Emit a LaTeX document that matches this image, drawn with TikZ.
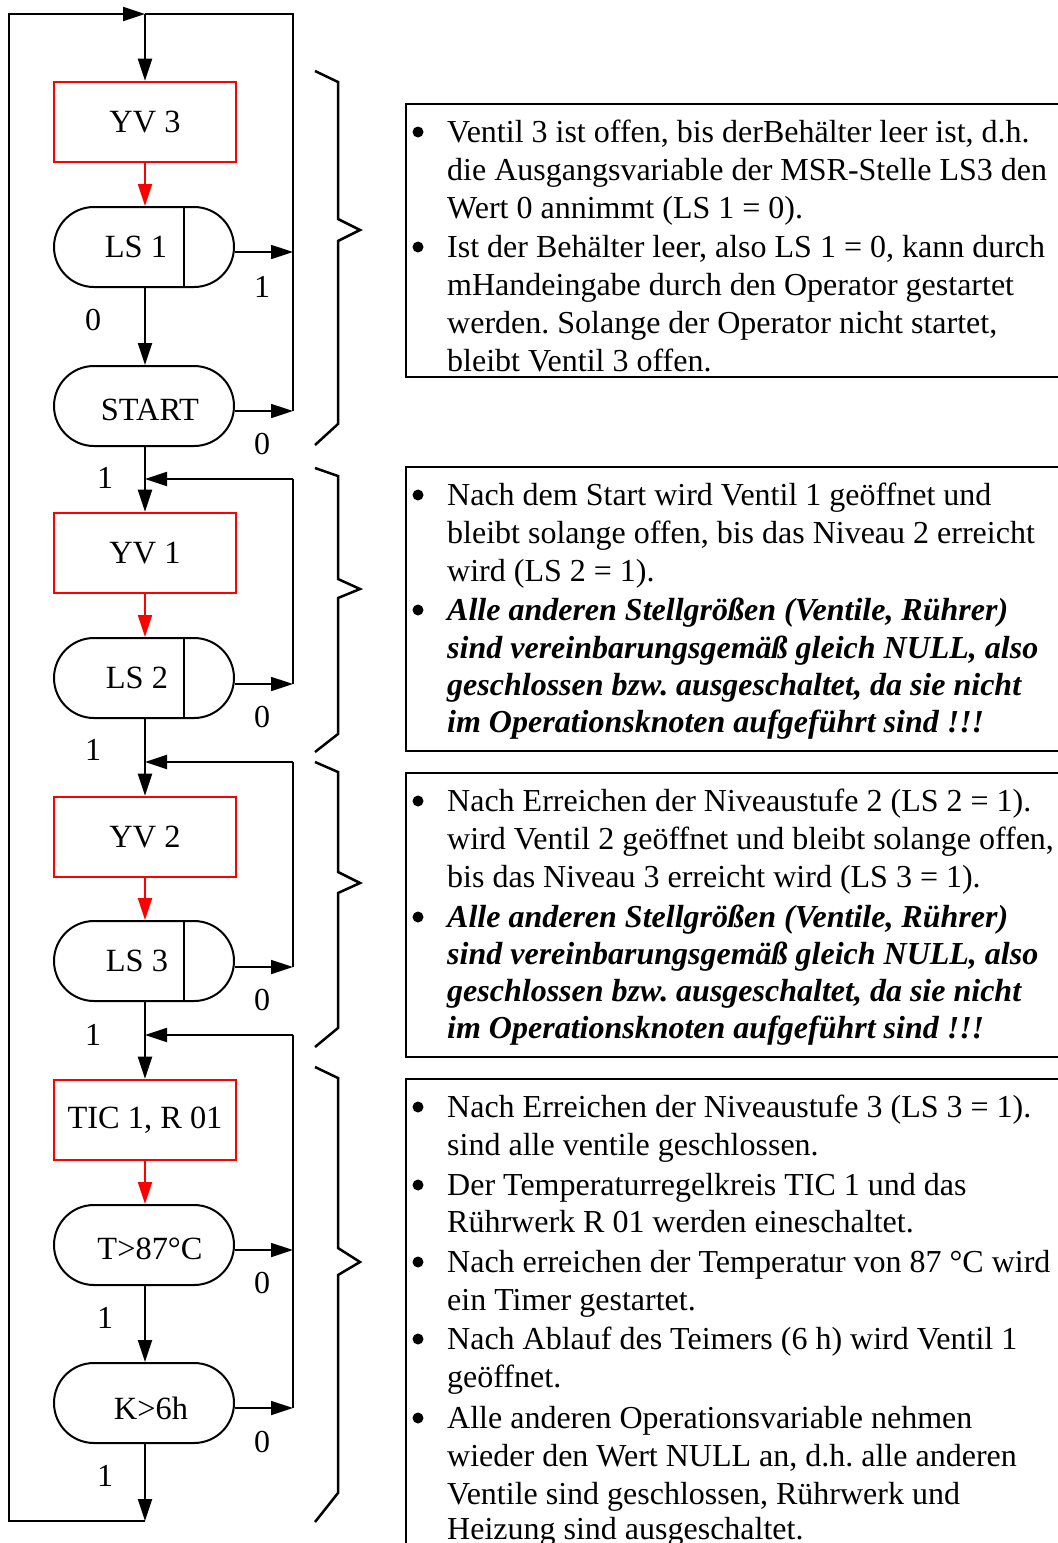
\documentclass[tikz,border=0pt]{standalone}
\usepackage{fontspec}
\setmainfont{Liberation Serif}
\usetikzlibrary{arrows.meta,shapes.misc}
\frenchspacing

\begin{document}
\begin{tikzpicture}[x=1pt,y=-1pt,
  every node/.style={font=\fontsize{32.4}{38}\selectfont, inner sep=0pt},
  opbox/.style={draw=red, line width=2.6pt, minimum width=182pt, minimum height=80pt},
  cond/.style={draw, line width=2pt, rounded rectangle, minimum width=180pt, minimum height=80pt},
  wire/.style={line width=2pt},
  arr/.style={line width=2pt, -{Triangle[length=22pt,width=14pt]}},
  exitarr/.style={line width=1.7pt, -{Triangle[length=22pt,width=14pt]}},
  redarr/.style={arr, red},
  lbl/.style={font=\fontsize{32}{38}\selectfont},
  brace/.style={line width=2.5pt, line join=miter},
  infobox/.style={line width=2pt},
  dot/.style={circle, fill, minimum size=11pt},
  txt/.style={anchor=base west, font=\fontsize{32}{38}\selectfont},
  bi/.style={txt, font=\fontsize{32}{38}\selectfont\bfseries\itshape},
]
\useasboundingbox (0,0) rectangle (1058,1543);
\clip (0,0) rectangle (1058,1543);

% ---------- flow chart nodes ----------
\node[opbox] (yv3) at (145,122) {YV 3};
\node[cond] (ls1) at (144,247) {};
\node (ls1t) at (136,247) {LS 1};
\node[cond] (start) at (144,406) {};
\node (startt) at (150,410) {START};

\node[opbox] (yv1) at (145,553) {YV 1};
\node[cond] (ls2) at (144,678) {};
\node (ls2t) at (137,678) {LS 2};

\node[opbox] (yv2) at (145,837) {YV 2};
\node[cond] (ls3) at (144,961) {};
\node (ls3t) at (137,961) {LS 3};

\node[opbox] (tic) at (145,1120) {TIC 1, R 01};
\node[cond] (temp) at (144,1245) {};
\node (tempt) at (150,1249) {T>87°C};
\node[cond] (timer) at (144,1403) {};
\node (timert) at (151,1408) {K>6h};

% dividers inside the level switch nodes
\coordinate (dv) at (184,0);
\foreach \n in {ls1,ls2,ls3}
  \draw[line width=1.3pt] (\n.north -| dv) -- (\n.south -| dv);

% ---------- junction points ----------
\coordinate (top) at (145,14);
\coordinate (topL) at (9,14);
\coordinate (topR) at (293,14);
\coordinate (bot) at (145,1521);
\coordinate (botL) at (9,1521);
\coordinate (j1) at (293,252);
\coordinate (j2) at (293,411);
\coordinate (r1) at (293,479);
\coordinate (m1) at (145,479);
\coordinate (j3) at (293,684);
\coordinate (r2) at (293,762);
\coordinate (m2) at (145,762);
\coordinate (j4) at (293,967);
\coordinate (r3) at (293,1035);
\coordinate (m3) at (145,1035);
\coordinate (j5) at (293,1250);
\coordinate (j6) at (293,1408);

% ---------- connectors ----------
\draw[arr] (timer.south -| bot) -- (bot);
\draw[arr] (bot) -- (botL) -- (topL) -- (top);
\draw[arr] (top) -- (yv3.north);
\draw[wire] (top) -- (topR) -- (j2);

\draw[redarr] (yv3.south) -- (yv3.south |- ls1.north);
\draw[arr] (ls1.south -| top) -- (start.north -| top);
\draw[exitarr] (ls1.east |- j1) -- (j1);
\draw[exitarr] (start.east |- j2) -- (j2);

\draw[arr] (start.south -| top) -- (yv1.north);
\draw[wire] (j3) -- (r1);
\draw[arr] (r1) -- (m1);
\draw[redarr] (yv1.south) -- (yv1.south |- ls2.north);
\draw[exitarr] (ls2.east |- j3) -- (j3);

\draw[arr] (ls2.south -| top) -- (yv2.north);
\draw[wire] (j4) -- (r2);
\draw[arr] (r2) -- (m2);
\draw[redarr] (yv2.south) -- (yv2.south |- ls3.north);
\draw[exitarr] (ls3.east |- j4) -- (j4);

\draw[arr] (ls3.south -| top) -- (tic.north);
\draw[wire] (j6) -- (r3);
\draw[arr] (r3) -- (m3);
\draw[redarr] (tic.south) -- (tic.south |- temp.north);
\draw[arr] (temp.south -| top) -- (timer.north -| top);
\draw[exitarr] (temp.east |- j5) -- (j5);
\draw[exitarr] (timer.east |- j6) -- (j6);

% ---------- branch labels ----------
\node[lbl] (l1) at (262,287) {1};
\node[lbl] (l2) at (93,320) {0};
\node[lbl] (l3) at (262,444) {0};
\node[lbl] (l4) at (105,478) {1};
\node[lbl] (l5) at (262,717) {0};
\node[lbl] (l6) at (93,750) {1};
\node[lbl] (l7) at (262,1000) {0};
\node[lbl] (l8) at (93,1035) {1};
\node[lbl] (l9) at (262,1283) {0};
\node[lbl] (l10) at (105,1318) {1};
\node[lbl] (l11) at (262,1442) {0};
\node[lbl] (l12) at (105,1476) {1};

% ---------- braces ----------
\draw[brace] (315,71) -- (338,82) -- (338,219) -- (360,230) -- (338,241) -- (338,424) -- (315,445);
\draw[brace] (315,468) -- (338,476) -- (338,579) -- (360,589) -- (338,598) -- (338,734) -- (315,752);
\draw[brace] (315,762) -- (338,772) -- (338,872) -- (360,883) -- (338,893) -- (338,1028) -- (315,1047);
\draw[brace] (315,1067) -- (338,1078) -- (338,1248) -- (360,1262) -- (338,1275) -- (338,1493) -- (315,1522);

% ---------- explanation boxes ----------
\draw[infobox] (1070,104) -- (406,104) -- (406,377) -- (1070,377);
\node[dot] (d1a) at (418,132) {};
\node[txt] (t1a) at (447,142) {Ventil 3 ist offen, bis derBehälter leer ist, d.h.};
\node[txt] (t1b) at (447,180) {die Ausgangsvariable der MSR-Stelle LS3 den};
\node[txt] (t1c) at (447,218) {Wert 0 annimmt (LS 1 = 0).};
\node[dot] (d1b) at (418,247) {};
\node[txt] (t1d) at (447,257) {Ist der Behälter leer, also LS 1 = 0, kann durch};
\node[txt] (t1e) at (447,295) {mHandeingabe durch den Operator gestartet};
\node[txt] (t1f) at (447,333) {werden. Solange der Operator nicht startet,};
\node[txt] (t1g) at (447,371) {bleibt Ventil 3 offen.};

\draw[infobox] (1070,467) -- (406,467) -- (406,751) -- (1070,751);
\node[dot] (d2a) at (418,495) {};
\node[txt] (t2a) at (447,505) {Nach dem Start wird Ventil 1 geöffnet und};
\node[txt] (t2b) at (447,543) {bleibt solange offen, bis das Niveau 2 erreicht};
\node[txt] (t2c) at (447,581) {wird (LS 2 = 1).};
\node[dot] (d2b) at (418,610) {};
\node[bi] (t2d) at (447,620) {Alle anderen Stellgrößen (Ventile, Rührer)};
\node[bi] (t2e) at (447,658) {sind vereinbarungsgemäß gleich NULL, also};
\node[bi] (t2f) at (447,695) {geschlossen bzw. ausgeschaltet, da sie nicht};
\node[bi] (t2g) at (447,732) {im Operationsknoten aufgeführt sind !!!};

\draw[infobox] (1070,773) -- (406,773) -- (406,1057) -- (1070,1057);
\node[dot] (d3a) at (418,801) {};
\node[txt] (t3a) at (447,811) {Nach Erreichen der Niveaustufe 2 (LS 2 = 1).};
\node[txt] (t3b) at (447,849) {wird Ventil 2 geöffnet und bleibt solange offen,};
\node[txt] (t3c) at (447,887) {bis das Niveau 3 erreicht wird (LS 3 = 1).};
\node[dot] (d3b) at (418,917) {};
\node[bi] (t3d) at (447,927) {Alle anderen Stellgrößen (Ventile, Rührer)};
\node[bi] (t3e) at (447,964) {sind vereinbarungsgemäß gleich NULL, also};
\node[bi] (t3f) at (447,1001) {geschlossen bzw. ausgeschaltet, da sie nicht};
\node[bi] (t3g) at (447,1038) {im Operationsknoten aufgeführt sind !!!};

\draw[infobox] (1070,1079) -- (406,1079) -- (406,1560);
\node[dot] (d4a) at (418,1107) {};
\node[txt] (t4a) at (447,1117) {Nach Erreichen der Niveaustufe 3 (LS 3 = 1).};
\node[txt] (t4b) at (447,1155) {sind alle ventile geschlossen.};
\node[dot] (d4b) at (418,1185) {};
\node[txt] (t4c) at (447,1195) {Der Temperaturregelkreis TIC 1 und das};
\node[txt] (t4d) at (447,1232) {Rührwerk R 01 werden eineschaltet.};
\node[dot] (d4c) at (418,1262) {};
\node[txt] (t4e) at (447,1272) {Nach erreichen der Temperatur von 87 °C wird};
\node[txt] (t4f) at (447,1310) {ein Timer gestartet.};
\node[dot] (d4d) at (418,1339) {};
\node[txt] (t4g) at (447,1349) {Nach Ablauf des Teimers (6 h) wird Ventil 1};
\node[txt] (t4h) at (447,1387) {geöffnet.};
\node[dot] (d4e) at (418,1418) {};
\node[txt] (t4i) at (447,1428) {Alle anderen Operationsvariable nehmen};
\node[txt] (t4j) at (447,1466) {wieder den Wert NULL an, d.h. alle anderen};
\node[txt] (t4k) at (447,1504) {Ventile sind geschlossen, Rührwerk und};
\node[txt] (t4l) at (447,1539) {Heizung sind ausgeschaltet.};
\end{tikzpicture}
\end{document}
